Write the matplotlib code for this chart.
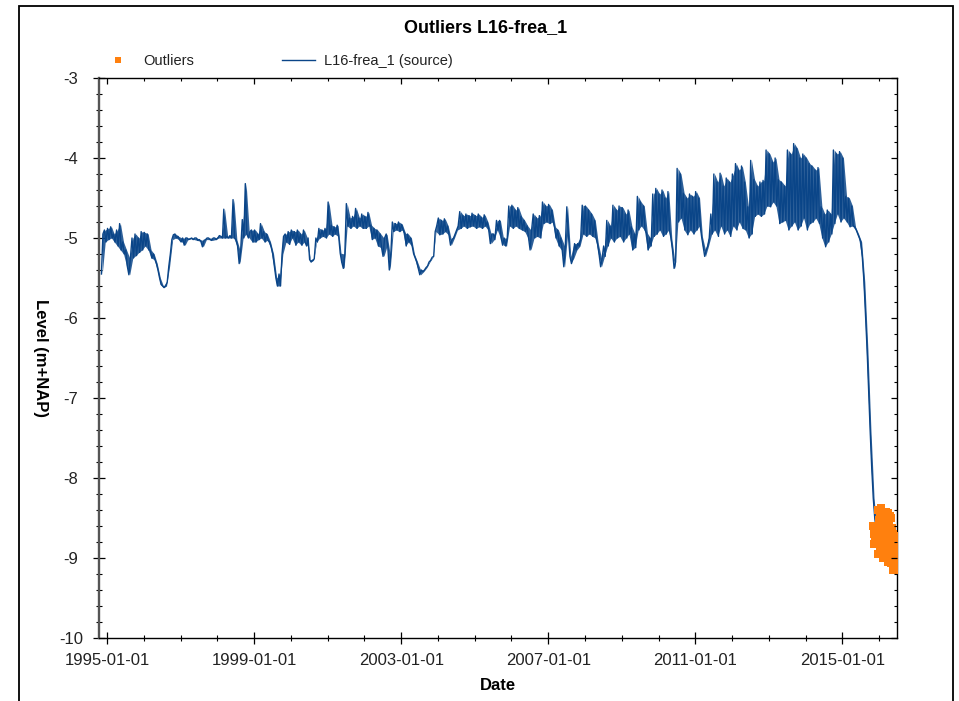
import numpy as np
import pandas as pd
import matplotlib
matplotlib.use('Agg')
import matplotlib.pyplot as plt
import matplotlib.dates as mdates
import matplotlib.ticker as mticker
from matplotlib.patches import Rectangle
from datetime import datetime

plt.rcParams['font.family'] = ['Liberation Sans', 'DejaVu Sans']
plt.rcParams['axes.unicode_minus'] = False

series_name = 'L16-frea_1'
first_month = '1994-11-01'

# two readings per month (around the 5th and the 20th), m+NAP
level = [
    # 1994 (Nov, Dec)
    -5.45, -4.95, -4.90, -5.05,
    # 1995
    -4.88, -5.02, -4.86, -5.00, -4.95, -5.05, -4.90, -5.10, -4.82, -5.15, -5.05, -5.20,
    -5.15, -5.35, -5.46, -5.25, -5.00, -5.25, -4.95, -5.22, -5.00, -5.18, -4.92, -5.15,
    # 1996
    -4.93, -5.10, -4.95, -5.15, -5.15, -5.25, -5.20, -5.27, -5.32, -5.40, -5.50, -5.58,
    -5.60, -5.62, -5.60, -5.55, -5.35, -5.20, -5.02, -4.96, -4.95, -5.00, -4.98, -5.02,
    # 1997
    -5.05, -5.00, -5.09, -5.00, -5.00, -5.02, -5.01, -5.00, -5.02, -5.00, -5.00, -5.03,
    -5.02, -5.04, -5.11, -5.03, -5.02, -5.00, -5.00, -5.02, -5.03, -5.00, -5.00, -5.02,
    # 1998
    -5.00, -4.97, -4.98, -5.00, -4.64, -5.00, -4.98, -5.00, -4.97, -5.00, -4.52, -5.00,
    -5.02, -5.10, -5.32, -5.15, -4.77, -5.00, -4.32, -4.95, -5.00, -4.92, -4.90, -5.05,
    # 1999
    -4.90, -5.05, -4.95, -5.02, -4.82, -5.00, -4.92, -5.05, -4.95, -5.03, -5.05, -5.12,
    -5.20, -5.35, -5.50, -5.60, -5.45, -5.60, -5.20, -4.98, -4.95, -5.05, -4.92, -5.08,
    # 2000
    -4.90, -5.00, -4.92, -5.09, -4.90, -5.05, -4.95, -5.09, -4.90, -5.05, -5.10, -5.00,
    -5.27, -5.30, -5.28, -5.26, -5.00, -5.05, -4.88, -5.00, -4.90, -4.98, -4.88, -5.00,
    # 2001
    -4.55, -4.95, -4.84, -4.98, -4.86, -4.95, -4.84, -4.98, -5.19, -5.30, -5.38, -5.20,
    -4.57, -4.85, -4.75, -4.88, -4.73, -4.85, -4.63, -4.88, -4.75, -4.85, -4.70, -4.88,
    # 2002
    -4.73, -4.88, -4.68, -4.85, -4.84, -5.02, -4.88, -5.00, -4.90, -5.10, -4.95, -5.12,
    -5.23, -5.00, -4.95, -5.10, -5.40, -5.20, -4.80, -4.92, -4.82, -4.90, -4.80, -4.92,
    # 2003
    -4.83, -4.90, -4.94, -5.10, -4.95, -5.05, -5.00, -5.10, -5.20, -5.25, -5.30, -5.38,
    -5.46, -5.40, -5.42, -5.40, -5.37, -5.35, -5.30, -5.28, -5.24, -5.23, -4.92, -4.85,
    # 2004
    -4.75, -4.96, -4.78, -4.95, -4.76, -4.92, -4.85, -4.96, -5.09, -5.02, -5.00, -4.95,
    -4.90, -4.85, -4.67, -4.88, -4.72, -4.85, -4.70, -4.88, -4.72, -4.86, -4.69, -4.85,
    # 2005
    -4.72, -4.88, -4.70, -4.86, -4.74, -4.88, -4.71, -4.85, -4.80, -4.90, -5.07, -4.95,
    -4.95, -5.02, -4.78, -4.90, -4.78, -5.00, -5.09, -5.00, -5.10, -5.00, -4.60, -4.85,
    # 2006
    -4.59, -4.88, -4.65, -4.85, -4.62, -4.88, -4.73, -4.90, -4.78, -4.92, -4.85, -5.00,
    -5.15, -4.90, -4.70, -5.00, -4.75, -4.98, -4.72, -5.00, -4.55, -4.82, -4.60, -4.80,
    # 2007
    -4.58, -4.82, -4.65, -4.80, -4.86, -5.00, -4.90, -5.10, -5.00, -5.15, -5.36, -5.10,
    -4.61, -4.95, -5.23, -5.32, -5.25, -5.07, -5.15, -5.07, -5.10, -5.00, -4.59, -4.95,
    # 2008
    -4.60, -4.98, -4.65, -4.95, -4.70, -4.98, -4.78, -5.00, -5.07, -5.20, -5.36, -5.25,
    -5.10, -5.23, -4.78, -5.10, -4.85, -5.00, -4.59, -5.05, -4.65, -5.00, -4.60, -4.98,
    # 2009
    -4.62, -5.05, -4.70, -5.00, -4.65, -4.95, -4.86, -5.15, -4.95, -5.12, -4.48, -4.90,
    -4.55, -4.85, -4.60, -4.90, -4.94, -5.15, -5.00, -5.10, -4.45, -4.98, -4.38, -4.95,
    # 2010
    -4.45, -4.90, -4.40, -4.98, -4.50, -4.95, -4.42, -4.90, -5.00, -5.15, -5.38, -5.30,
    -4.13, -4.80, -4.20, -4.75, -4.44, -4.90, -4.50, -4.96, -4.45, -4.90, -4.48, -4.95,
    # 2011
    -4.42, -4.90, -4.50, -4.85, -4.98, -5.10, -5.23, -5.15, -5.10, -5.00, -4.70, -4.95,
    -4.20, -4.90, -4.30, -4.98, -4.19, -4.85, -4.35, -4.95, -4.25, -4.90, -4.30, -4.98,
    # 2012
    -4.20, -4.85, -4.07, -4.90, -4.15, -4.80, -4.10, -4.88, -4.30, -4.90, -4.61, -5.00,
    -4.03, -4.95, -4.27, -4.73, -4.35, -4.70, -4.30, -4.73, -4.28, -4.70, -3.90, -4.60,
    # 2013
    -3.95, -4.61, -4.05, -4.55, -4.00, -4.60, -4.27, -4.82, -4.30, -4.80, -4.35, -4.78,
    -3.90, -4.90, -3.95, -4.85, -3.82, -4.80, -3.88, -4.90, -4.00, -4.85, -3.95, -4.75,
    # 2014
    -4.00, -4.90, -4.07, -4.82, -4.10, -4.80, -4.15, -4.75, -4.12, -4.82, -4.61, -5.00,
    -4.70, -5.11, -4.65, -5.05, -4.70, -4.95, -3.90, -4.82, -3.95, -4.70, -3.92, -4.80,
    # 2015
    -4.00, -4.75, -4.48, -4.80, -4.50, -4.86, -4.60, -4.85, -4.86, -4.90, -4.95, -5.00,
    -5.05, -5.25, -5.55, -5.95, -6.40, -6.90, -7.40, -7.85, -8.25, -8.50, -8.65, -8.70,
    # 2016 (Jan - Jun)
    -8.75, -8.70, -8.80, -8.85, -8.85, -8.90, -8.90, -8.95, -9.00, -8.95, -9.00, -9.05,
]

# flagged points, one every four days
outlier_start = '2015-11-05'
outlier_level = [
    -8.60, -8.82, -8.70, -8.65, -8.78, -8.62, -8.80, -8.68, -8.74, -8.60, -8.82, -8.70,
    -8.40, -8.95, -8.52, -8.80, -8.62, -8.45, -8.90, -8.70, -8.38, -8.85, -8.58, -8.92,
    -8.45, -9.00, -8.60, -8.85, -8.50, -8.95, -8.70, -8.43, -8.90, -8.55, -8.80, -9.00,
    -8.44, -9.05, -8.55, -8.90, -8.65, -8.48, -8.98, -8.75, -8.50, -9.06, -8.62, -8.85,
    -8.70, -9.15, -8.85, -9.00, -8.75, -9.10, -8.92, -8.80, -9.15, -8.72, -9.05, -8.90,
]

major_years = [1995, 1999, 2003, 2007, 2011, 2015]

months = pd.date_range(first_month, periods=len(level) // 2, freq='MS')
dates = np.empty(len(level), dtype='datetime64[ns]')
dates[0::2] = (months + pd.Timedelta(days=4)).values
dates[1::2] = (months + pd.Timedelta(days=19)).values
outlier_dates = pd.date_range(outlier_start, periods=len(outlier_level), freq='4D')

# spread of the two readings within each month
pairs = np.array(level).reshape(-1, 2)
month_lo = pairs.min(axis=1)
month_hi = pairs.max(axis=1)
month_mid = months + pd.Timedelta(days=12)

blue = '#0a4588'
orange = '#ff800e'
text_col = '#222222'

W, H = 959, 701
fig = plt.figure(figsize=(W / 100, H / 100), dpi=100)
ax = fig.add_axes([99 / W, 1 - 638 / H, 798 / W, 560 / H])

ax.fill_between(month_mid, month_lo, month_hi, color=blue, lw=0,
                alpha=0.85, zorder=2)
line, = ax.plot(dates, level, color=blue, lw=1.0, zorder=2)
pts, = ax.plot(outlier_dates, outlier_level, ls='none', marker='s', ms=5.6,
               mew=0, color=orange, zorder=3)

ax.set_xlim(datetime(1994, 10, 12), datetime(2016, 6, 28))
ax.set_ylim(-10, -3)

ax.xaxis.set_major_locator(mticker.FixedLocator(
    mdates.date2num([datetime(y, 1, 1) for y in major_years])))
ax.xaxis.set_minor_locator(mdates.YearLocator(1))
ax.xaxis.set_major_formatter(mdates.DateFormatter('%Y-%m-%d'))
ax.yaxis.set_major_locator(mticker.MultipleLocator(1))
ax.yaxis.set_minor_locator(mticker.MultipleLocator(0.2))

ax.tick_params(which='major', direction='inout', length=8, width=0.9,
               labelsize=12, labelcolor=text_col)
ax.tick_params(which='minor', direction='inout', length=4, width=0.8)
ax.tick_params(axis='x', which='major', pad=6.8)
ax.tick_params(axis='y', which='major', pad=16.2)
plt.setp(ax.get_yticklabels(), ha='center')

for side in ['top', 'right', 'bottom']:
    ax.spines[side].set_linewidth(1.0)
ax.spines['left'].set_color('#555555')
ax.spines['left'].set_linewidth(1.7)

# ticks pointing inwards on the top and right edges
ax2 = fig.add_axes(ax.get_position(), sharex=ax, sharey=ax, frameon=False)
ax2.tick_params(which='both', direction='in', bottom=False, left=False,
                top=True, right=True, labelbottom=False, labelleft=False,
                labeltop=False, labelright=False)
ax2.tick_params(which='major', length=4.2, width=0.9)
ax2.tick_params(which='minor', length=2.0, width=0.8)

ax.set_xlabel('Date', fontsize=12, fontweight='bold', va='center')
ax.xaxis.set_label_coords(0.5, (638 - 686) / 560)
ax.set_ylabel('Level (m+NAP)', fontsize=12, fontweight='bold',
              rotation=270, va='center')
ax.yaxis.set_label_coords((40 - 99) / 798, 0.5)

fig.text(486 / W, 1 - 28 / H, 'Outliers ' + series_name, fontsize=13,
         fontweight='bold', ha='center', va='center')

fig.legend([pts, line], ['Outliers', series_name + ' (source)'],
           loc='center left', bbox_to_anchor=(101.5 / W, 1 - 61 / H),
           ncol=2, frameon=False, fontsize=10.5, labelcolor=text_col,
           handlelength=2.26, handletextpad=0.62, columnspacing=6.0,
           borderpad=0, borderaxespad=0, numpoints=1, markerscale=0.77)

# outer frame
fig.add_artist(Rectangle((19 / W, -0.05), (953 - 19) / W, 1 - 6 / H + 0.05,
                         transform=fig.transFigure, fill=False,
                         lw=1.3, ec='black'))

fig.savefig('out.png', dpi=100)
